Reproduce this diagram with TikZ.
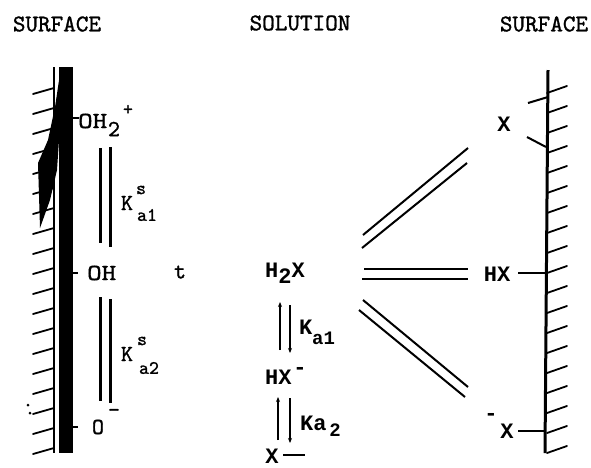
\documentclass[tikz,border=0pt]{standalone}
\usepackage{fontspec}
\usepackage{graphicx}
\newfontfamily\solf{Liberation Mono}
\newfontfamily\ttb{lmmono10-regular}[Extension=.otf, FakeBold=1.2]
\usetikzlibrary{arrows.meta}
\tikzset{
  tt/.style={font=\fontsize{23}{26}\selectfont\ttb, inner sep=0pt},
  ttsm/.style={font=\fontsize{19}{22}\selectfont\ttb, inner sep=0pt},
  title/.style={font=\fontsize{24}{28}\selectfont\ttb, inner sep=0pt},
  sol/.style={font=\fontsize{22}{24}\selectfont\solf\bfseries, inner sep=0pt},
  solsm/.style={font=\fontsize{19}{20}\selectfont\solf\bfseries, inner sep=0pt},
  hatch/.style={line width=1.8pt, line cap=round},
  dbl/.style={line width=3pt},
  bond/.style={line width=2pt},
  eqarrow/.style={line width=1.8pt, -{Stealth[length=5pt,width=4pt]}},
}
\begin{document}
\begin{tikzpicture}[x=1pt,y=-1pt]
\useasboundingbox (0,0) rectangle (591,467);
% titles
\node[title] (t1) at (57,24) {SURFACE};
\node[title] (t2) at (300,23) {SOLUTION};
\node[title] (t3) at (544,24) {SURFACE};
% left surface
\fill (59,67) rectangle (73,453);
\draw[line width=1.2pt] (54,67) -- (54,453);
\fill (61,67) -- (55,107) -- (48,140) -- (38,163) -- (40,228) -- (50,200) -- (57,170) -- (59,140) -- cycle;
\foreach \y in {88,108,...,448} \draw[hatch] (54,\y) -- (33,\y+6);
\fill (28,405) circle (1.5pt);
\fill (30,413) circle (1.5pt);
% left ticks
\coordinate (b1) at (73,118);
\coordinate (b2) at (73,273);
\coordinate (b3) at (73,427);
\draw[line width=1.5pt] (b1) -- ++(6,0);
\draw[line width=1.5pt] (b2) -- ++(5,0);
\draw[line width=1.5pt] (b3) -- ++(5,0);
% left labels
\node[tt, anchor=west] (oh2) at (78,121) {\scalebox{1.2}[1]{OH}};
\node[tt] (oh2s) at (114,129) {2};
\node[ttsm] (oh2p) at (128,110) {+};
\node[tt, anchor=west] (oh) at (87,273) {\scalebox{1.2}[1]{OH}};
\node[tt] (tt1) at (180,272) {t};
\node[tt] (o) at (98,427) {O};
\node[tt] (om) at (114,413) {-};
% left double bars
\draw[dbl] (100,148) -- (100,243);
\draw[dbl] (110,147) -- (110,247);
\draw[dbl] (100,297) -- (100,401);
\draw[dbl] (110,299) -- (110,403);
\node[tt] (k1) at (127,203) {K};
\node[ttsm] (k1s) at (141,190) {s};
\node[ttsm] (k1a) at (147,215) {a1};
\node[tt] (k2) at (127,354) {K};
\node[ttsm] (k2s) at (142,341) {s};
\node[ttsm] (k2a) at (149,368) {a2};
% solution species
\node[sol, anchor=west] (h2x) at (265,273) {H\raisebox{-6pt}{2}X};
\node[sol, anchor=west] (hx) at (265,377) {HX};
\node[sol] (hxm) at (300,371) {-};
\node[sol] (xx) at (272,456) {X};
\draw[line width=1.8pt] (283,455) -- (305,455);
\draw[eqarrow] (280,350) -- (280,302);
\draw[eqarrow] (290,305) -- (290,353);
\draw[eqarrow] (278,440) -- (278,397);
\draw[eqarrow] (290,398) -- (290,443);
\node[sol, anchor=west] (ka1) at (299,327) {K};
\node[solsm, anchor=west] (ka1s) at (312,338) {a1};
\node[sol, anchor=west] (ka2) at (300,423) {Ka};
\node[solsm] (ka2s) at (335,430) {2};
% connectors
\draw[bond] (363,235) -- (468,148);
\draw[bond] (362,248) -- (467,163);
\draw[line width=2.5pt] (364,269) -- (468,269);
\draw[line width=2.5pt] (362,279) -- (468,279);
\draw[bond] (363,300) -- (468,387);
\draw[bond] (359,310) -- (465,397);
% right surface
\draw[line width=3pt] (548,70) -- (545,453);
\foreach \y in {93,113,...,453} \draw[hatch] (547,\y) -- (567,\y-7);
\node[sol] (rx) at (504,124) {X};
\draw[bond] (528,103) -- (548,97);
\draw[bond] (527,137) -- (546,147);
\node[sol] (rhx) at (497,274) {HX};
\draw[bond] (518,273) -- (546,273);
\node[sol] (rxm) at (491,417) {-};
\node[sol] (rxx) at (507,431) {X};
\draw[bond] (518,431) -- (545,431);
\end{tikzpicture}
\end{document}
